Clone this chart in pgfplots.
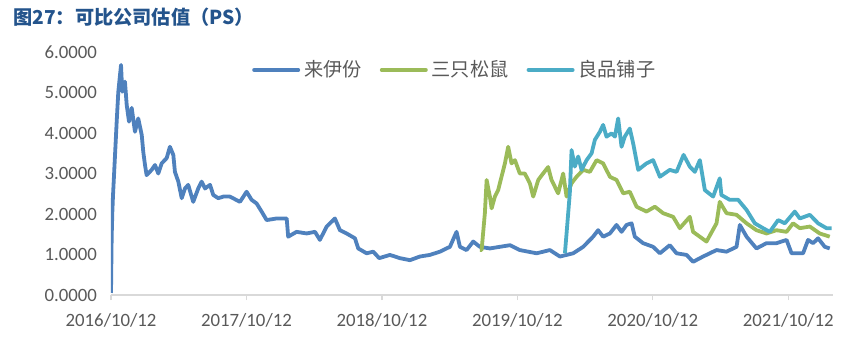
\documentclass[border=0pt]{standalone}
\usepackage{pgfplots}
\pgfplotsset{compat=1.18}
\usepackage{fontspec}
\setmainfont{Carlito}
\newfontfamily\cjk{Noto Sans CJK SC}
\definecolor{cLai}{HTML}{4F81BD}
\definecolor{cSan}{HTML}{9BBB59}
\definecolor{cLiang}{HTML}{4BACC6}
\definecolor{txtgray}{HTML}{595959}
\definecolor{axgray}{HTML}{D9D9D9}
\definecolor{titleblue}{RGB}{36,84,140}
\begin{document}
\begin{tikzpicture}
\path[use as bounding box] (-55.5pt,-27.5pt) rectangle (377.5pt,147.5pt);
\node[anchor=west,inner sep=0pt,text=titleblue,font={\fontsize{9.6pt}{11pt}\selectfont\cjk\bfseries}] at (-49pt,139pt) {图27：可比公司估值（PS）};
\begin{axis}[
  at={(0pt,0pt)}, anchor=south west,
  scale only axis, width=361pt, height=121.5pt,
  xmin=0, xmax=5.33, ymin=0, ymax=6,
  axis x line*=bottom, axis y line*=left,
  x axis line style={draw=axgray, line width=0.6pt, -},
  y axis line style={draw=none},
  xtick={0,1,2,3,4,5},
  xticklabels={2016/10/12,2017/10/12,2018/10/12,2019/10/12,2020/10/12,2021/10/12},
  ytick={0,1,2,3,4,5,6},
  /pgf/number format/fixed, /pgf/number format/fixed zerofill, /pgf/number format/precision=4,
  /pgf/number format/assume math mode=true,
  tick label style={font=\fontsize{9.4pt}{11pt}\selectfont, text=txtgray},
  xtick style={draw=axgray, line width=0.6pt},
  ytick style={draw=none},
  tick align=outside, major tick length=2.5pt,
  xticklabel style={yshift=-3pt},
  yticklabel style={xshift=-1pt},
  legend columns=3,
  legend style={at={(0.195,0.926)}, anchor=west, draw=none, fill=none, inner sep=0pt,
    font=\fontsize{9.6pt}{11pt}\selectfont\cjk, text=txtgray,
    /tikz/every even column/.append style={column sep=7pt}},
  legend image code/.code={\draw[#1,line width=2pt,line cap=round] (0pt,0pt) -- (22pt,0pt);},
  every axis plot/.append style={line width=1.9pt, line join=round, no markers},
]
\addplot[cLai] coordinates {
(0.000,0.05)(0.005,1.44)(0.010,2.06)(0.015,2.47)(0.042,4.28)(0.054,5.02)(0.074,5.68)(0.083,5.02)
(0.103,5.27)(0.116,4.69)(0.133,4.28)(0.153,4.62)(0.177,4.03)(0.201,4.36)(0.227,3.95)(0.238,3.54)
(0.251,3.21)(0.263,2.96)(0.300,3.09)(0.325,3.21)(0.349,3.00)(0.374,3.25)(0.411,3.38)(0.435,3.66)
(0.460,3.46)(0.472,3.04)(0.497,2.80)(0.522,2.39)(0.546,2.63)(0.570,2.72)(0.607,2.30)(0.644,2.63)
(0.669,2.80)(0.694,2.63)(0.731,2.72)(0.755,2.47)(0.792,2.39)(0.829,2.43)(0.878,2.43)(0.952,2.30)
(1.001,2.55)(1.038,2.35)(1.075,2.26)(1.112,2.06)(1.149,1.85)(1.223,1.89)(1.297,1.89)(1.308,1.44)
(1.370,1.56)(1.444,1.52)(1.506,1.56)(1.542,1.36)(1.592,1.69)(1.653,1.89)(1.690,1.60)(1.739,1.52)
(1.801,1.40)(1.825,1.15)(1.887,1.03)(1.936,1.07)(1.980,0.91)(2.059,0.99)(2.133,0.91)(2.207,0.86)
(2.280,0.95)(2.354,0.99)(2.428,1.07)(2.502,1.19)(2.551,1.56)(2.576,1.19)(2.625,1.11)(2.674,1.32)
(2.723,1.19)(2.797,1.15)(2.945,1.23)(3.018,1.11)(3.142,1.03)(3.240,1.11)(3.314,0.95)(3.412,1.03)
(3.486,1.19)(3.559,1.44)(3.596,1.60)(3.633,1.44)(3.683,1.52)(3.732,1.73)(3.769,1.56)(3.806,1.73)
(3.843,1.77)(3.867,1.44)(3.928,1.28)(4.002,1.19)(4.052,1.03)(4.125,1.23)(4.175,1.03)(4.249,0.99)
(4.297,0.82)(4.371,0.95)(4.470,1.11)(4.544,1.07)(4.618,1.19)(4.642,1.73)(4.692,1.44)(4.765,1.15)
(4.839,1.28)(4.913,1.28)(4.987,1.36)(5.024,1.03)(5.109,1.03)(5.146,1.36)(5.183,1.28)(5.220,1.40)
(5.269,1.19)(5.306,1.15)
};
\addlegendentry{来伊份}
\addplot[cSan] coordinates {
(2.723,1.11)(2.736,1.11)(2.760,2.02)(2.773,2.84)(2.797,2.43)(2.810,2.14)(2.834,2.43)(2.858,2.59)
(2.883,2.92)(2.908,3.25)(2.932,3.66)(2.957,3.25)(2.982,3.33)(3.018,3.00)(3.055,3.00)(3.092,2.76)
(3.117,2.43)(3.154,2.84)(3.190,3.00)(3.227,3.16)(3.252,2.84)(3.301,2.51)(3.338,3.00)(3.363,2.43)
(3.400,2.76)(3.437,2.92)(3.486,3.09)(3.535,3.04)(3.585,3.33)(3.633,3.25)(3.683,2.92)(3.732,2.84)
(3.781,2.51)(3.830,2.55)(3.880,2.18)(3.953,2.06)(4.015,2.18)(4.076,2.02)(4.150,1.93)(4.199,1.65)
(4.273,1.93)(4.297,1.56)(4.396,1.32)(4.470,1.77)(4.494,2.30)(4.544,2.02)(4.618,1.98)(4.692,1.77)
(4.765,1.60)(4.839,1.52)(4.913,1.60)(4.987,1.56)(5.035,1.77)(5.085,1.65)(5.159,1.69)(5.232,1.52)
(5.306,1.44)
};
\addlegendentry{三只松鼠}
\addplot[cLiang] coordinates {
(3.351,1.03)(3.365,1.60)(3.387,2.51)(3.400,3.58)(3.424,3.17)(3.449,3.42)(3.474,3.09)(3.511,3.33)
(3.548,3.50)(3.572,3.83)(3.609,4.03)(3.633,4.20)(3.658,3.91)(3.695,3.99)(3.720,3.91)(3.744,4.36)
(3.769,3.66)(3.793,3.91)(3.830,4.11)(3.855,3.74)(3.892,3.09)(3.953,3.25)(4.002,3.33)(4.052,2.92)
(4.125,3.09)(4.175,3.04)(4.227,3.46)(4.273,3.17)(4.310,3.04)(4.347,3.33)(4.384,2.59)(4.445,2.43)
(4.494,2.88)(4.506,2.47)(4.568,2.35)(4.630,2.35)(4.692,2.10)(4.753,1.77)(4.814,1.65)(4.863,1.56)
(4.925,1.85)(4.974,1.77)(5.048,2.06)(5.085,1.89)(5.159,1.98)(5.220,1.77)(5.282,1.65)(5.319,1.65)
};
\addlegendentry{良品铺子}
\end{axis}
\end{tikzpicture}
\end{document}
